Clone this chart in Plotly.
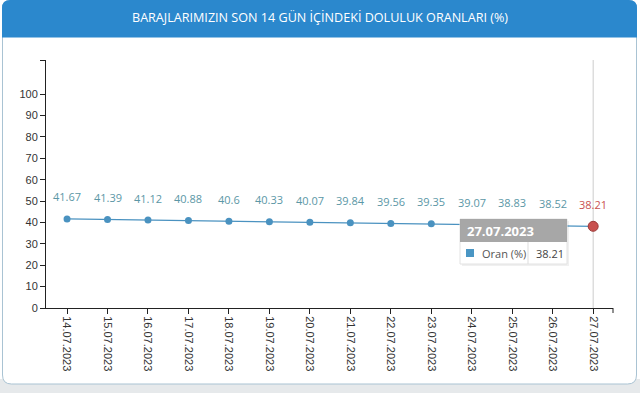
import plotly.graph_objects as go

dates = ["14.07.2023", "15.07.2023", "16.07.2023", "17.07.2023", "18.07.2023",
         "19.07.2023", "20.07.2023", "21.07.2023", "22.07.2023", "23.07.2023",
         "24.07.2023", "25.07.2023", "26.07.2023", "27.07.2023"]
oran = [41.67, 41.39, 41.12, 40.88, 40.6, 40.33, 40.07, 39.84, 39.56, 39.35,
        39.07, 38.83, 38.52, 38.21]
label_text = ["41.67", "41.39", "41.12", "40.88", "40.6", "40.33", "40.07",
              "39.84", "39.56", "39.35", "39.07", "38.83", "38.52", "38.21"]
y_ticks = [0, 10, 20, 30, 40, 50, 60, 70, 80, 90, 100]
title = "BARAJLARIMIZIN SON 14 GÜN İÇİNDEKİ DOLULUK ORANLARI (%)"
series_name = "Oran (%)"

W, H = 640, 393
L, R, T, B = 46, 27, 60, 85
PW, PH = W - L - R, H - T - B


def px(x):
    return (x - L) / PW


def py(y):
    return (H - B - y) / PH


LINE = "#4a92c0"
LBL = "#5b97a6"
RED = "#c9514f"

fig = go.Figure()
fig.add_trace(go.Scatter(
    x=dates, y=oran, mode="lines+markers", name=series_name,
    line=dict(color=LINE, width=1.3),
    marker=dict(color=LINE, size=7),
    hoverinfo="skip", showlegend=False,
))
fig.add_trace(go.Scatter(
    x=[dates[-1]], y=[oran[-1]], mode="markers",
    marker=dict(color=RED, size=10, line=dict(color="#9c3a38", width=1)),
    hoverinfo="skip", showlegend=False,
))

annotations = []
for i, (d, v, t) in enumerate(zip(dates, oran, label_text)):
    annotations.append(dict(
        x=d, y=v, text=t, showarrow=False, yshift=22,
        font=dict(family="Open Sans", size=11,
                  color=RED if i == len(dates) - 1 else LBL),
    ))

# title text
annotations.append(dict(
    xref="paper", yref="paper", x=px(320), y=py(18), text=title,
    showarrow=False, xanchor="center", yanchor="middle",
    font=dict(family="Open Sans", size=12.6, color="white"),
))

shapes = []
# bottom gray band
shapes.append(dict(type="rect", xref="paper", yref="paper", layer="below",
                   x0=px(0), x1=px(640), y0=py(379), y1=py(393),
                   fillcolor="#e6e9eb", line=dict(width=0)))


def rpath(x0, x1, y0, y1, rt, rb):
    return (f"M {px(x0+rt)},{py(y0)} L {px(x1-rt)},{py(y0)} "
            f"Q {px(x1)},{py(y0)} {px(x1)},{py(y0+rt)} "
            f"L {px(x1)},{py(y1-rb)} Q {px(x1)},{py(y1)} {px(x1-rb)},{py(y1)} "
            f"L {px(x0+rb)},{py(y1)} Q {px(x0)},{py(y1)} {px(x0)},{py(y1-rb)} "
            f"L {px(x0)},{py(y0+rt)} Q {px(x0)},{py(y0)} {px(x0+rt)},{py(y0)} Z")


shapes.append(dict(type="path", xref="paper", yref="paper", layer="below",
                   path=rpath(2.5, 636.5, 0.5, 384, 8, 9), fillcolor="white",
                   line=dict(color="#a9c3d3", width=1)))
shapes.append(dict(type="path", xref="paper", yref="paper", layer="below",
                   path=rpath(2, 637, 0, 37.5, 8, 0), fillcolor="#2b88cd",
                   line=dict(width=0)))
# crosshair
shapes.append(dict(type="line", xref="x", yref="paper", layer="below",
                   x0=dates[-1], x1=dates[-1], y0=0, y1=1,
                   line=dict(color="#cccccc", width=1)))
# right axis end tick
shapes.append(dict(type="line", xref="paper", yref="paper",
                   x0=1, x1=1, y0=0, y1=py(313),
                   line=dict(color="#222222", width=1)))

# tooltip
tx0, tx1, ty0, ty1, th = 460, 567, 219, 264, 242
shapes.append(dict(type="rect", xref="paper", yref="paper",
                   x0=px(tx0 + 2), x1=px(tx1 + 2), y0=py(ty0 + 2), y1=py(ty1 + 2),
                   fillcolor="rgba(0,0,0,0.06)", line=dict(width=0)))
shapes.append(dict(type="rect", xref="paper", yref="paper",
                   x0=px(tx0), x1=px(tx1), y0=py(ty0), y1=py(ty1),
                   fillcolor="rgba(255,255,255,0.95)",
                   line=dict(color="#e2e2e2", width=1)))
shapes.append(dict(type="rect", xref="paper", yref="paper",
                   x0=px(tx0), x1=px(tx1), y0=py(ty0), y1=py(th),
                   fillcolor="rgba(160,160,160,0.92)", line=dict(width=0)))
shapes.append(dict(type="line", xref="paper", yref="paper",
                   x0=px(528), x1=px(528), y0=py(th), y1=py(ty1),
                   line=dict(color="#dddddd", width=1)))
shapes.append(dict(type="rect", xref="paper", yref="paper",
                   x0=px(466), x1=px(474), y0=py(249), y1=py(257),
                   fillcolor="#4a96c4", line=dict(width=0)))
annotations.append(dict(
    xref="paper", yref="paper", x=px(465), y=py(231), text=f"<b>{dates[-1]}</b>",
    showarrow=False, xanchor="left", yanchor="middle",
    font=dict(family="Open Sans", size=13, color="white")))
annotations.append(dict(
    xref="paper", yref="paper", x=px(480), y=py(253.5), text=series_name,
    showarrow=False, xanchor="left", yanchor="middle",
    font=dict(family="Open Sans", size=11, color="#555555")))
annotations.append(dict(
    xref="paper", yref="paper", x=px(534), y=py(253.5), text=label_text[-1],
    showarrow=False, xanchor="left", yanchor="middle",
    font=dict(family="Open Sans", size=11, color="#444444")))

fig.update_layout(
    width=W, height=H,
    margin=dict(l=L, r=R, t=T, b=B, pad=0),
    paper_bgcolor="white", plot_bgcolor="rgba(0,0,0,0)",
    shapes=shapes, annotations=annotations, hovermode=False,
    xaxis=dict(type="category", range=[-0.52, len(dates) - 0.51],
               showgrid=False, zeroline=False, showline=True,
               linecolor="#222222", linewidth=1,
               ticks="outside", ticklen=5, tickcolor="#222222",
               tickangle=90,
               tickfont=dict(family="Liberation Sans", size=11, color="#333333")),
    yaxis=dict(range=[0, 116], tickvals=y_ticks + [116],
               ticktext=[str(v) for v in y_ticks] + [""],
               showgrid=False, zeroline=False, showline=True,
               linecolor="#222222", linewidth=1,
               ticks="outside", ticklen=5, tickcolor="#222222",
               tickfont=dict(family="Liberation Sans", size=11, color="#333333")),
)

fig.write_html("out.html")
